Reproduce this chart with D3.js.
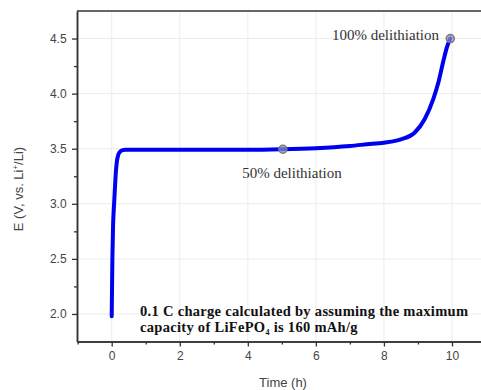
<!DOCTYPE html>
<html><head><meta charset="utf-8">
<script src="https://cdn.jsdelivr.net/npm/d3@7"></script>
<style>body{margin:0;background:#fff}svg{display:block}</style>
</head><body>
<script>
const timeH = [0, 0.01, 0.02, 0.04, 0.07, 0.1, 0.12, 0.15, 0.2, 0.25, 0.3, 0.4, 0.6, 1, 2, 3, 4, 5, 6, 7, 7.5, 8, 8.5, 8.9, 9.2, 9.45, 9.6, 9.75, 9.85, 9.95];
const voltage = [1.98, 2.25, 2.5, 2.8, 3.0, 3.17, 3.28, 3.38, 3.45, 3.475, 3.485, 3.49, 3.49, 3.49, 3.49, 3.49, 3.49, 3.495, 3.505, 3.525, 3.54, 3.555, 3.585, 3.645, 3.77, 3.95, 4.1, 4.3, 4.42, 4.5];
const markerT = [5.03, 9.95];
const markerV = [3.495, 4.5];
const markerLabels = ["50% delithiation", "100% delithiation"];
const xTicks = [0, 2, 4, 6, 8, 10];
const yTicks = [2.0, 2.5, 3.0, 3.5, 4.0, 4.5];

const W = 481, H = 390;
const svg = d3.select("body").append("svg").attr("width", W).attr("height", H);
const x = d3.scaleLinear().domain([-1.02, 11]).range([77, 486]);
const y = d3.scaleLinear().domain([1.75, 4.75]).range([341.5, 11]);
const axisColor = "#333", textColor = "#444";

// grid
svg.append("g").selectAll("line").data(xTicks).join("line")
  .attr("x1", d => x(d)).attr("x2", d => x(d)).attr("y1", y(4.75)).attr("y2", y(1.75))
  .attr("stroke", "#ececec").attr("stroke-width", 1);
svg.append("g").selectAll("line").data(yTicks).join("line")
  .attr("x1", x(-1.02)).attr("x2", W).attr("y1", d => y(d)).attr("y2", d => y(d))
  .attr("stroke", "#ececec").attr("stroke-width", 1);

// axes
const xAxis = d3.axisBottom(x).tickValues(xTicks).tickFormat(d3.format("d")).tickSize(5).tickSizeOuter(0);
const gx = svg.append("g").attr("transform", `translate(0,${y(1.75)})`).call(xAxis);
const xMinor = d3.axisBottom(x).tickValues([-1,1,3,5,7,9]).tickFormat("").tickSize(3).tickSizeOuter(0);
const gxm = svg.append("g").attr("transform", `translate(0,${y(1.75)})`).call(xMinor);
const yAxis = d3.axisLeft(y).tickValues(yTicks).tickFormat(d3.format(".1f")).tickSize(5).tickSizeOuter(0);
const gy = svg.append("g").attr("transform", `translate(${x(-1.02)},0)`).call(yAxis);
const yMinor = d3.axisLeft(y).tickValues([2.25,2.75,3.25,3.75,4.25]).tickFormat("").tickSize(3).tickSizeOuter(0);
const gym = svg.append("g").attr("transform", `translate(${x(-1.02)},0)`).call(yMinor);
[gx, gxm, gy, gym].forEach(g => {
  g.select(".domain").attr("stroke", axisColor).attr("stroke-width", 1.5);
  g.selectAll(".tick line").attr("stroke", axisColor).attr("stroke-width", 1.3);
  g.selectAll(".tick text").attr("fill", textColor).attr("font-family", "Liberation Sans, Arial, sans-serif").attr("font-size", 12);
});
gx.selectAll(".tick text").attr("dy", "0.9em");
gy.selectAll(".tick text").attr("dx", "-0.2em");
// top frame
svg.append("line").attr("x1", x(-1.02)).attr("x2", W).attr("y1", y(4.75)).attr("y2", y(4.75))
  .attr("stroke", axisColor).attr("stroke-width", 1.5);

// curve
const pts = timeH.map((t, i) => [t, voltage[i]]);
svg.append("path").datum(pts)
  .attr("d", d3.line().x(d => x(d[0])).y(d => y(d[1])).curve(d3.curveMonotoneX))
  .attr("fill", "none").attr("stroke", "#0000f0").attr("stroke-width", 4).attr("stroke-linecap", "round");

// markers
svg.append("g").selectAll("circle").data(markerT).join("circle")
  .attr("cx", d => x(d)).attr("cy", (d, i) => y(markerV[i])).attr("r", 4)
  .attr("fill", "#8a93c8").attr("fill-opacity", 0.7).attr("stroke", "#777").attr("stroke-width", 1.5);

// labels
const serif = "Liberation Serif, Times New Roman, serif";
svg.append("text").attr("x", 292).attr("y", 177.5).attr("text-anchor", "middle")
  .attr("font-family", serif).attr("font-size", 15).attr("fill", "#333").text(markerLabels[0]);
svg.append("text").attr("x", 439).attr("y", 40).attr("text-anchor", "end")
  .attr("font-family", serif).attr("font-size", 15).attr("fill", "#333").text(markerLabels[1]);

const note = svg.append("g").attr("font-family", serif).attr("font-size", 14.5).attr("font-weight", "bold").attr("fill", "#111").attr("letter-spacing", 0.3);
note.append("text").attr("x", 140).attr("y", 315.5).text("0.1 C charge calculated by assuming the maximum");
const t2 = note.append("text").attr("x", 140).attr("y", 332);
t2.append("tspan").text("capacity of LiFePO");
t2.append("tspan").attr("font-size", 8).attr("dy", 3).text("4");
t2.append("tspan").attr("dy", -3).text(" is 160 mAh/g");

// axis titles
svg.append("text").attr("x", 283).attr("y", 387).attr("text-anchor", "middle")
  .attr("font-family", "Liberation Sans, Arial, sans-serif").attr("font-size", 13).attr("fill", textColor).text("Time (h)");
const yl = svg.append("text").attr("transform", "translate(23,189) rotate(-90)").attr("text-anchor", "middle")
  .attr("font-family", "Liberation Sans, Arial, sans-serif").attr("font-size", 13).attr("fill", textColor);
yl.append("tspan").text("E (V, vs. Li");
yl.append("tspan").attr("font-size", 8).attr("dy", -5).text("+");
yl.append("tspan").attr("dy", 5).text("/Li)");
</script>
</body></html>
